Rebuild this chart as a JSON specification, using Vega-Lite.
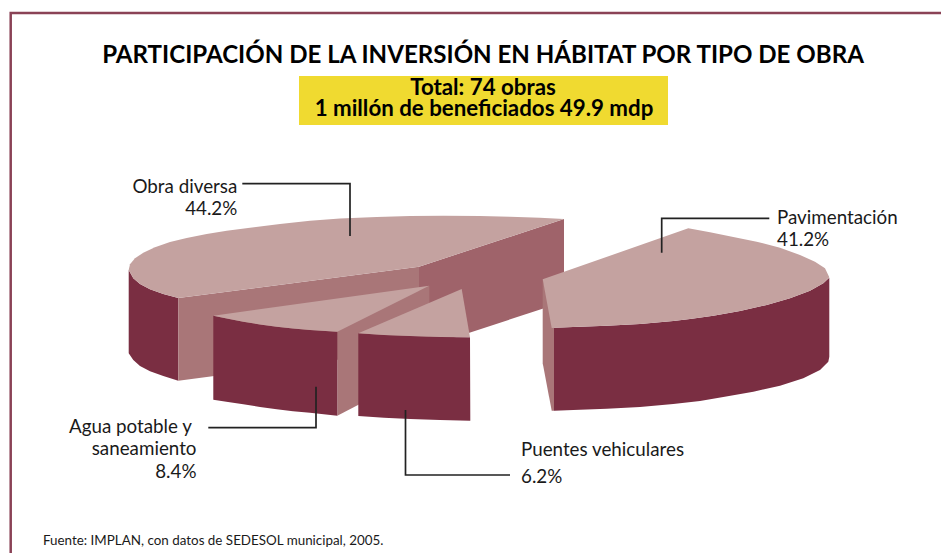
{
"$schema":"https://vega.github.io/schema/vega-lite/v6.json",
"width":941,"height":553,"autosize":{"type":"none"},"padding":0,
"background":"#ffffff","view":{"stroke":null},
"datasets":{
"faces":[
{"part":"obra-rim","shade":"rim","x":128.7,"y":270},{"part":"obra-rim","shade":"rim","x":133.3,"y":278.3},{"part":"obra-rim","shade":"rim","x":140,"y":284},{"part":"obra-rim","shade":"rim","x":150,"y":289.3},{"part":"obra-rim","shade":"rim","x":163.3,"y":294},{"part":"obra-rim","shade":"rim","x":178.3,"y":298},{"part":"obra-rim","shade":"rim","x":178.3,"y":380.7},{"part":"obra-rim","shade":"rim","x":163.3,"y":376},{"part":"obra-rim","shade":"rim","x":150,"y":371.3},{"part":"obra-rim","shade":"rim","x":140,"y":366},{"part":"obra-rim","shade":"rim","x":133.3,"y":360},{"part":"obra-rim","shade":"rim","x":128.7,"y":353.3},
{"part":"obra-cut1","shade":"cut","x":178.3,"y":298},{"part":"obra-cut1","shade":"cut","x":419,"y":266.7},{"part":"obra-cut1","shade":"cut","x":419,"y":349},{"part":"obra-cut1","shade":"cut","x":178.3,"y":380.7},
{"part":"obra-cut2","shade":"shadow","x":419,"y":266.7},{"part":"obra-cut2","shade":"shadow","x":564,"y":219},{"part":"obra-cut2","shade":"shadow","x":564,"y":301.7},{"part":"obra-cut2","shade":"shadow","x":419,"y":349.3},
{"part":"obra-top","shade":"top","x":128.7,"y":270},{"part":"obra-top","shade":"top","x":130,"y":264.3},{"part":"obra-top","shade":"top","x":135,"y":258.3},{"part":"obra-top","shade":"top","x":143.3,"y":252.7},{"part":"obra-top","shade":"top","x":155,"y":247.3},{"part":"obra-top","shade":"top","x":170,"y":242},{"part":"obra-top","shade":"top","x":186.7,"y":238},{"part":"obra-top","shade":"top","x":206.7,"y":234},{"part":"obra-top","shade":"top","x":226.7,"y":230.7},{"part":"obra-top","shade":"top","x":250,"y":227.7},{"part":"obra-top","shade":"top","x":280,"y":224},{"part":"obra-top","shade":"top","x":310,"y":220.7},{"part":"obra-top","shade":"top","x":340,"y":218.5},{"part":"obra-top","shade":"top","x":376.7,"y":217},{"part":"obra-top","shade":"top","x":410,"y":216},{"part":"obra-top","shade":"top","x":443.3,"y":215.7},{"part":"obra-top","shade":"top","x":480,"y":216},{"part":"obra-top","shade":"top","x":510,"y":216.7},{"part":"obra-top","shade":"top","x":540,"y":217.8},{"part":"obra-top","shade":"top","x":564,"y":219},{"part":"obra-top","shade":"top","x":419,"y":266.7},{"part":"obra-top","shade":"top","x":178.3,"y":298},{"part":"obra-top","shade":"top","x":163.3,"y":294},{"part":"obra-top","shade":"top","x":150,"y":289.3},{"part":"obra-top","shade":"top","x":140,"y":284},{"part":"obra-top","shade":"top","x":133.3,"y":278.3},
{"part":"agua-cut","shade":"cut","x":337.3,"y":331.7},{"part":"agua-cut","shade":"cut","x":429.3,"y":285.7},{"part":"agua-cut","shade":"cut","x":429.3,"y":368},{"part":"agua-cut","shade":"cut","x":337.3,"y":415.7},
{"part":"agua-rim","shade":"rim","x":213.3,"y":315.7},{"part":"agua-rim","shade":"rim","x":228,"y":318.8},{"part":"agua-rim","shade":"rim","x":243.3,"y":321.7},{"part":"agua-rim","shade":"rim","x":260,"y":324.4},{"part":"agua-rim","shade":"rim","x":276.7,"y":326.7},{"part":"agua-rim","shade":"rim","x":293,"y":328.5},{"part":"agua-rim","shade":"rim","x":310,"y":330},{"part":"agua-rim","shade":"rim","x":337.3,"y":331.7},{"part":"agua-rim","shade":"rim","x":337.3,"y":415.7},{"part":"agua-rim","shade":"rim","x":310,"y":412.7},{"part":"agua-rim","shade":"rim","x":293,"y":411.2},{"part":"agua-rim","shade":"rim","x":276.7,"y":409.3},{"part":"agua-rim","shade":"rim","x":260,"y":407},{"part":"agua-rim","shade":"rim","x":243.3,"y":404.3},{"part":"agua-rim","shade":"rim","x":228,"y":402},{"part":"agua-rim","shade":"rim","x":213.3,"y":399.7},
{"part":"agua-top","shade":"top","x":213.3,"y":315.7},{"part":"agua-top","shade":"top","x":429.3,"y":285.7},{"part":"agua-top","shade":"top","x":337.3,"y":331.7},{"part":"agua-top","shade":"top","x":310,"y":330},{"part":"agua-top","shade":"top","x":293,"y":328.5},{"part":"agua-top","shade":"top","x":276.7,"y":326.7},{"part":"agua-top","shade":"top","x":260,"y":324.4},{"part":"agua-top","shade":"top","x":243.3,"y":321.7},{"part":"agua-top","shade":"top","x":228,"y":318.8},
{"part":"puentes-rim","shade":"rim","x":358.3,"y":333.3},{"part":"puentes-rim","shade":"rim","x":384,"y":335},{"part":"puentes-rim","shade":"rim","x":410,"y":336},{"part":"puentes-rim","shade":"rim","x":440,"y":336.9},{"part":"puentes-rim","shade":"rim","x":470,"y":337.3},{"part":"puentes-rim","shade":"rim","x":470.3,"y":420.7},{"part":"puentes-rim","shade":"rim","x":440,"y":420},{"part":"puentes-rim","shade":"rim","x":410,"y":419},{"part":"puentes-rim","shade":"rim","x":384,"y":417.8},{"part":"puentes-rim","shade":"rim","x":358.3,"y":416},
{"part":"puentes-top","shade":"top","x":358.3,"y":333.3},{"part":"puentes-top","shade":"top","x":461.7,"y":289},{"part":"puentes-top","shade":"top","x":470,"y":337.3},{"part":"puentes-top","shade":"top","x":440,"y":336.9},{"part":"puentes-top","shade":"top","x":410,"y":336},{"part":"puentes-top","shade":"top","x":384,"y":335},
{"part":"pav-cut","shade":"cut","x":542.7,"y":279.3},{"part":"pav-cut","shade":"cut","x":554,"y":327.7},{"part":"pav-cut","shade":"cut","x":554,"y":410.7},{"part":"pav-cut","shade":"cut","x":551.7,"y":410.7},{"part":"pav-cut","shade":"cut","x":542.7,"y":363.3},
{"part":"pav-rim","shade":"rim","x":554,"y":327.7},{"part":"pav-rim","shade":"rim","x":573.3,"y":327},{"part":"pav-rim","shade":"rim","x":606.7,"y":325.7},{"part":"pav-rim","shade":"rim","x":640,"y":324},{"part":"pav-rim","shade":"rim","x":673.3,"y":321},{"part":"pav-rim","shade":"rim","x":690,"y":319},{"part":"pav-rim","shade":"rim","x":713.3,"y":315.7},{"part":"pav-rim","shade":"rim","x":740,"y":311},{"part":"pav-rim","shade":"rim","x":766.7,"y":305},{"part":"pav-rim","shade":"rim","x":790,"y":298.3},{"part":"pav-rim","shade":"rim","x":810,"y":290.7},{"part":"pav-rim","shade":"rim","x":823.3,"y":283.3},{"part":"pav-rim","shade":"rim","x":829.3,"y":277.7},{"part":"pav-rim","shade":"rim","x":829.3,"y":356.7},{"part":"pav-rim","shade":"rim","x":828.3,"y":361.7},{"part":"pav-rim","shade":"rim","x":820,"y":370},{"part":"pav-rim","shade":"rim","x":803.3,"y":378.3},{"part":"pav-rim","shade":"rim","x":780,"y":385.7},{"part":"pav-rim","shade":"rim","x":753.3,"y":391.7},{"part":"pav-rim","shade":"rim","x":723.3,"y":397},{"part":"pav-rim","shade":"rim","x":700,"y":401},{"part":"pav-rim","shade":"rim","x":673.3,"y":404},{"part":"pav-rim","shade":"rim","x":640,"y":407},{"part":"pav-rim","shade":"rim","x":606.7,"y":408.7},{"part":"pav-rim","shade":"rim","x":573.3,"y":410},{"part":"pav-rim","shade":"rim","x":554,"y":410.7},
{"part":"pav-top","shade":"top","x":542.7,"y":279.3},{"part":"pav-top","shade":"top","x":688.3,"y":228.3},{"part":"pav-top","shade":"top","x":710,"y":232.3},{"part":"pav-top","shade":"top","x":733.3,"y":237},{"part":"pav-top","shade":"top","x":756.7,"y":241.7},{"part":"pav-top","shade":"top","x":780,"y":247.7},{"part":"pav-top","shade":"top","x":800,"y":255},{"part":"pav-top","shade":"top","x":815,"y":261.7},{"part":"pav-top","shade":"top","x":825,"y":268.3},{"part":"pav-top","shade":"top","x":829.3,"y":277.2},{"part":"pav-top","shade":"top","x":823.3,"y":283.3},{"part":"pav-top","shade":"top","x":810,"y":290.7},{"part":"pav-top","shade":"top","x":790,"y":298.3},{"part":"pav-top","shade":"top","x":766.7,"y":305},{"part":"pav-top","shade":"top","x":740,"y":311},{"part":"pav-top","shade":"top","x":713.3,"y":315.7},{"part":"pav-top","shade":"top","x":690,"y":319},{"part":"pav-top","shade":"top","x":673.3,"y":321},{"part":"pav-top","shade":"top","x":640,"y":324},{"part":"pav-top","shade":"top","x":606.7,"y":325.7},{"part":"pav-top","shade":"top","x":573.3,"y":327},{"part":"pav-top","shade":"top","x":551.7,"y":327.9}
],
"leaders":[
{"name":"obra","x":242.3,"y":183.7},{"name":"obra","x":350,"y":183.7},{"name":"obra","x":350,"y":236},
{"name":"pav","x":769.3,"y":218.3},{"name":"pav","x":661.7,"y":218.3},{"name":"pav","x":661.7,"y":252.7},
{"name":"agua","x":208.3,"y":427.7},{"name":"agua","x":316,"y":427.7},{"name":"agua","x":316,"y":386.7},
{"name":"puentes","x":405.5,"y":410},{"name":"puentes","x":405.5,"y":475},{"name":"puentes","x":510,"y":475}
],
"border":[{"x":10.7,"y":553},{"x":10.7,"y":13},{"x":941,"y":13}],
"box":[{"x":299,"x2":668,"y":76,"y2":125}],
"texts":[
{"role":"title","t":"PARTICIPACIÓN DE LA INVERSIÓN EN HÁBITAT POR TIPO DE OBRA","x":483,"y":62.5},
{"role":"total","t":"Total: 74 obras","x":483,"y":95},
{"role":"total","t":"1 millón de beneficiados 49.9 mdp","x":484,"y":116},
{"role":"right","t":"Obra diversa","x":237.3,"y":192.7},
{"role":"right","t":"44.2%","x":237.3,"y":214.5},
{"role":"right","t":"Agua potable y","x":192,"y":433},
{"role":"right","t":"saneamiento","x":196.5,"y":455},
{"role":"right","t":"8.4%","x":196.5,"y":477.7},
{"role":"left","t":"Pavimentación","x":777,"y":224},
{"role":"left","t":"41.2%","x":777,"y":246},
{"role":"left","t":"Puentes vehiculares","x":521,"y":456},
{"role":"left","t":"6.2%","x":521,"y":483},
{"role":"foot","t":"Fuente: IMPLAN, con datos de SEDESOL municipal, 2005.","x":43,"y":545}
]
},
"encoding":{
"x":{"field":"x","type":"quantitative","scale":{"domain":[0,941],"nice":false,"zero":false},"axis":null},
"y":{"field":"y","type":"quantitative","scale":{"domain":[553,0],"nice":false,"zero":false},"axis":null}
},
"layer":[
{"data":{"name":"border"},"mark":{"type":"line","stroke":"#8a4256","strokeWidth":2.5,"strokeJoin":"miter"},"encoding":{"order":{"value":0}}},
{"data":{"name":"box"},"mark":{"type":"rect","fill":"#f0da30"},"encoding":{"x2":{"field":"x2"},"y2":{"field":"y2"}}},
{"data":{"name":"faces"},"transform":[{"window":[{"op":"row_number","as":"n"}]}],"mark":{"type":"line","strokeWidth":0,"interpolate":"linear"},
 "encoding":{"detail":{"field":"part"},"order":{"field":"n","type":"quantitative"},
  "fill":{"field":"shade","type":"nominal","legend":null,"scale":{"domain":["top","rim","cut","shadow"],"range":["#c4a2a0","#7a2e42","#a97678","#9f636a"]}}}},
{"data":{"name":"leaders"},"transform":[{"window":[{"op":"row_number","as":"n"}]}],"mark":{"type":"line","stroke":"#222222","strokeWidth":1.7,"strokeJoin":"miter"},
 "encoding":{"detail":{"field":"name"},"order":{"field":"n","type":"quantitative"}}},
{"data":{"name":"texts"},"transform":[{"filter":"datum.role=='title'"}],"mark":{"type":"text","font":"Lato","fontWeight":"bold","fontSize":24.1,"align":"center","baseline":"alphabetic","fill":"#000000"},"encoding":{"text":{"field":"t"}}},
{"data":{"name":"texts"},"transform":[{"filter":"datum.role=='total'"}],"mark":{"type":"text","font":"Lato","fontWeight":"bold","fontSize":22.3,"align":"center","baseline":"alphabetic","fill":"#000000"},"encoding":{"text":{"field":"t"}}},
{"data":{"name":"texts"},"transform":[{"filter":"datum.role=='right'"}],"mark":{"type":"text","font":"Lato","fontSize":18.8,"align":"right","baseline":"alphabetic","fill":"#1a1a1a"},"encoding":{"text":{"field":"t"}}},
{"data":{"name":"texts"},"transform":[{"filter":"datum.role=='left'"}],"mark":{"type":"text","font":"Lato","fontSize":18.8,"align":"left","baseline":"alphabetic","fill":"#1a1a1a"},"encoding":{"text":{"field":"t"}}},
{"data":{"name":"texts"},"transform":[{"filter":"datum.role=='foot'"}],"mark":{"type":"text","font":"Lato","fontSize":13.4,"align":"left","baseline":"alphabetic","fill":"#1a1a1a"},"encoding":{"text":{"field":"t"}}}
]
}
